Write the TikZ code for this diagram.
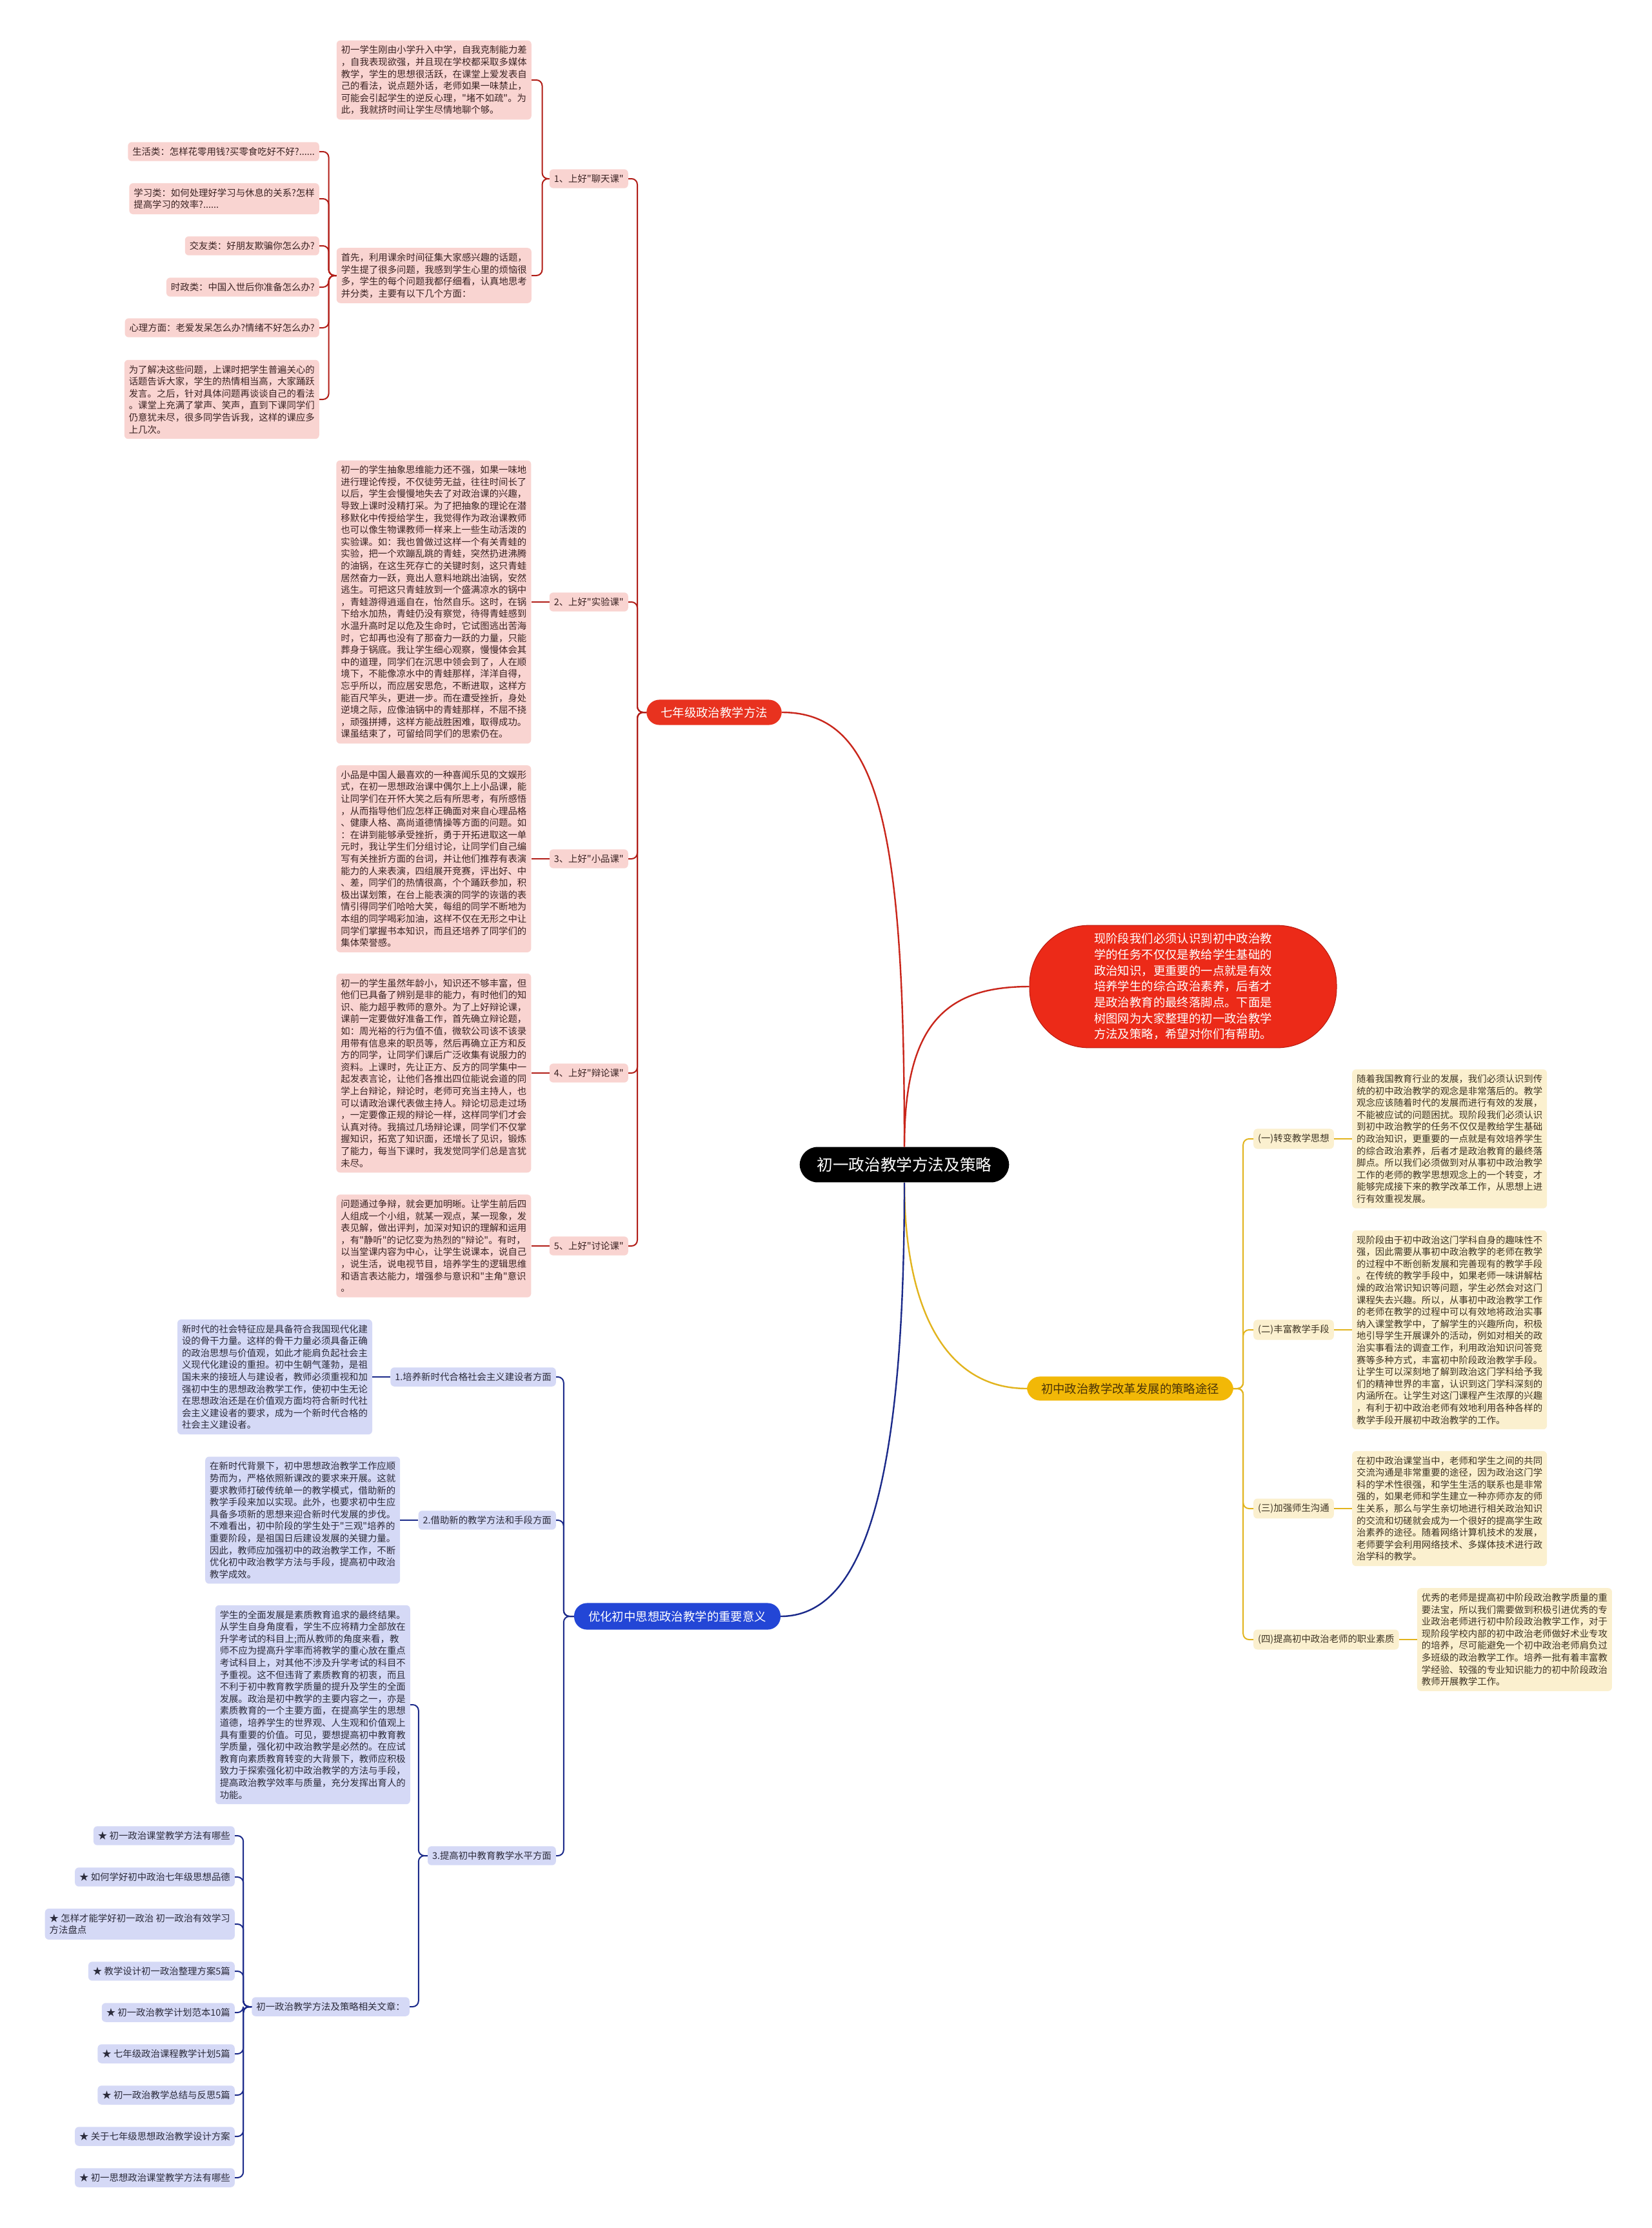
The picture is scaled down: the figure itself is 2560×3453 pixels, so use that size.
\documentclass[tikz,border=0pt]{standalone}
\usepackage{fontspec}
\setmainfont{Noto Sans CJK SC}
\newfontfamily\cjk{Noto Sans CJK SC}
\XeTeXlinebreaklocale "zh"
\usetikzlibrary{positioning}

\definecolor{pinkfill}{HTML}{F9D4D1}
\definecolor{pinktext}{HTML}{3B2323}
\definecolor{redline}{HTML}{B11D17}
\definecolor{rootred}{HTML}{C9261B}
\definecolor{qred}{HTML}{E8321F}
\definecolor{introred}{HTML}{EC2A18}
\definecolor{introedge}{HTML}{B81A0F}
\definecolor{bluefill}{HTML}{D5D9F6}
\definecolor{bluetext}{HTML}{2B2B3B}
\definecolor{blueline}{HTML}{1B2A8A}
\definecolor{bmain}{HTML}{2346D6}
\definecolor{yelfill}{HTML}{FBF0CF}
\definecolor{yeltext}{HTML}{3E3423}
\definecolor{yelline}{HTML}{E2B41E}
\definecolor{ymain}{HTML}{F2B807}
\definecolor{ymaintext}{HTML}{4B3407}

\begin{document}
\begin{tikzpicture}[x=1pt, y=-1pt, node distance=28pt,
    every node/.style={font=\cjk\fontsize{14.4}{18.6}\selectfont, align=left, inner xsep=7pt, inner ysep=8pt, rounded corners=6pt},
    pinkbox/.style={fill=pinkfill, text=pinktext},
    bluebox/.style={fill=bluefill, text=bluetext},
    yelbox/.style={fill=yelfill, text=yeltext},
    topic/.style={font=\cjk\fontsize{18.4}{24.7}\selectfont, align=center, inner xsep=22pt, inner ysep=11pt, rounded corners=20pt, text=white},
    redcon/.style={draw=redline, line width=2pt, rounded corners=9pt},
    bluecon/.style={draw=blueline, line width=2pt, rounded corners=9pt},
    yelcon/.style={draw=yelline, line width=2pt, rounded corners=9pt}]

    \fill[white] (0,0) rectangle (2560,3453);
    \useasboundingbox (0,0) rectangle (2560,3453);

    % centre and main branches
    \node[topic, fill=black, font=\cjk\fontsize{24.6}{30}\selectfont, inner xsep=27pt, inner ysep=16pt, rounded corners=28pt] (root) at (1402,1805) {初一政治教学方法及策略};
    \node[topic, fill=introred, draw=introedge, line width=1pt, align=left, inner xsep=100pt, inner ysep=12pt, rounded corners=92pt] (intro) at (1834,1529) {现阶段我们必须认识到初中政治教\\学的任务不仅仅是教给学生基础的\\政治知识，更重要的一点就是有效\\培养学生的综合政治素养，后者才\\是政治教育的最终落脚点。下面是\\树图网为大家整理的初一政治教学\\方法及策略，希望对你们有帮助。};
    \node[topic, fill=qred] (grade7) at (1107,1104) {七年级政治教学方法};
    \node[topic, fill=ymain, text=ymaintext, inner ysep=10pt] (reform) at (1752,2152) {初中政治教学改革发展的策略途径};
    \node[topic, fill=bmain, inner ysep=12pt] (meaning) at (1050,2505) {优化初中思想政治教学的重要意义};

    \draw[rootred, line width=2.4pt] (root.north) .. controls +(0,-500) and +(150,0) .. (grade7.east);
    \draw[rootred, line width=2.4pt] (root.north) .. controls +(0,-190) and +(-130,0) .. (intro.west);
    \draw[yelline, line width=2.4pt] (root.south) .. controls +(0,190) and +(-130,0) .. (reform.west);
    \draw[blueline, line width=2.4pt] (root.south) .. controls +(0,430) and +(140,0) .. (meaning.east);

    % seventh grade methods
    \node[pinkbox, anchor=east] (chat) at (974,277) {1、上好"聊天课"};
    \node[pinkbox, anchor=east] (exper) at (974,933) {2、上好"实验课"};
    \node[pinkbox, anchor=east] (skit) at (974,1331) {3、上好"小品课"};
    \node[pinkbox, anchor=east] (debate) at (974,1663) {4、上好"辩论课"};
    \node[pinkbox, anchor=east] (discuss) at (974,1931) {5、上好"讨论课"};

    \node[pinkbox, anchor=east] (chat-a) at (824,124) {初一学生刚由小学升入中学，自我克制能力差\\，自我表现欲强，并且现在学校都采取多媒体\\教学，学生的思想很活跃，在课堂上爱发表自\\己的看法，说点题外话，老师如果一味禁止，\\可能会引起学生的逆反心理，"堵不如疏"。为\\此，我就挤时间让学生尽情地聊个够。};
    \node[pinkbox, anchor=east] (chat-b) at (824,427) {首先，利用课余时间征集大家感兴趣的话题，\\学生提了很多问题，我感到学生心里的烦恼很\\多，学生的每个问题我都仔细看，认真地思考\\并分类，主要有以下几个方面：};
    \node[pinkbox, anchor=east] (life) at (495,235) {生活类：怎样花零用钱?买零食吃好不好?......};
    \node[pinkbox, anchor=east] (study) at (495,308) {学习类：如何处理好学习与休息的关系?怎样\\提高学习的效率?......};
    \node[pinkbox, anchor=east] (friend) at (495,381) {交友类：好朋友欺骗你怎么办?};
    \node[pinkbox, anchor=east] (news) at (495,445) {时政类：中国入世后你准备怎么办?};
    \node[pinkbox, anchor=east] (mind) at (495,508) {心理方面：老爱发呆怎么办?情绪不好怎么办?};
    \node[pinkbox, anchor=east] (solve) at (495,619) {为了解决这些问题，上课时把学生普遍关心的\\话题告诉大家，学生的热情相当高，大家踊跃\\发言。之后，针对具体问题再谈谈自己的看法\\。课堂上充满了掌声、笑声，直到下课同学们\\仍意犹未尽，很多同学告诉我，这样的课应多\\上几次。};

    \node[pinkbox, left=of exper] (exper-t) {初一的学生抽象思维能力还不强，如果一味地\\进行理论传授，不仅徒劳无益，往往时间长了\\以后，学生会慢慢地失去了对政治课的兴趣，\\导致上课时没精打采。为了把抽象的理论在潜\\移默化中传授给学生，我觉得作为政治课教师\\也可以像生物课教师一样来上一些生动活泼的\\实验课。如：我也曾做过这样一个有关青蛙的\\实验，把一个欢蹦乱跳的青蛙，突然扔进沸腾\\的油锅，在这生死存亡的关键时刻，这只青蛙\\居然奋力一跃，竟出人意料地跳出油锅，安然\\逃生。可把这只青蛙放到一个盛满凉水的锅中\\，青蛙游得逍遥自在，怡然自乐。这时，在锅\\下给水加热，青蛙仍没有察觉，待得青蛙感到\\水温升高时足以危及生命时，它试图逃出苦海\\时，它却再也没有了那奋力一跃的力量，只能\\葬身于锅底。我让学生细心观察，慢慢体会其\\中的道理，同学们在沉思中领会到了，人在顺\\境下，不能像凉水中的青蛙那样，洋洋自得，\\忘乎所以，而应居安思危，不断进取，这样方\\能百尺竿头，更进一步。而在遭受挫折，身处\\逆境之际，应像油锅中的青蛙那样，不屈不挠\\，顽强拼搏，这样方能战胜困难，取得成功。\\课虽结束了，可留给同学们的思索仍在。};
    \node[pinkbox, left=of skit] (skit-t) {小品是中国人最喜欢的一种喜闻乐见的文娱形\\式，在初一思想政治课中偶尔上上小品课，能\\让同学们在开怀大笑之后有所思考，有所感悟\\，从而指导他们应怎样正确面对来自心理品格\\、健康人格、高尚道德情操等方面的问题。如\\：在讲到能够承受挫折，勇于开拓进取这一单\\元时，我让学生们分组讨论，让同学们自己编\\写有关挫折方面的台词，并让他们推荐有表演\\能力的人来表演，四组展开竞赛，评出好、中\\、差，同学们的热情很高，个个踊跃参加，积\\极出谋划策，在台上能表演的同学的诙谐的表\\情引得同学们哈哈大笑，每组的同学不断地为\\本组的同学喝彩加油，这样不仅在无形之中让\\同学们掌握书本知识，而且还培养了同学们的\\集体荣誉感。};
    \node[pinkbox, left=of debate] (debate-t) {初一的学生虽然年龄小，知识还不够丰富，但\\他们已具备了辨别是非的能力，有时他们的知\\识、能力超乎教师的意外。为了上好辩论课，\\课前一定要做好准备工作，首先确立辩论题，\\如：周光裕的行为值不值，微软公司该不该录\\用带有信息来的职员等，然后再确立正方和反\\方的同学，让同学们课后广泛收集有说服力的\\资料。上课时，先让正方、反方的同学集中一\\起发表言论，让他们各推出四位能说会道的同\\学上台辩论，辩论时，老师可充当主持人，也\\可以请政治课代表做主持人。辩论切忌走过场\\，一定要像正规的辩论一样，这样同学们才会\\认真对待。我搞过几场辩论课，同学们不仅掌\\握知识，拓宽了知识面，还增长了见识，锻炼\\了能力，每当下课时，我发觉同学们总是言犹\\未尽。};
    \node[pinkbox, left=of discuss] (discuss-t) {问题通过争辩，就会更加明晰。让学生前后四\\人组成一个小组，就某一观点，某一现象，发\\表见解，做出评判，加深对知识的理解和运用\\，有"静听"的记忆变为热烈的"辩论"。有时，\\以当堂课内容为中心，让学生说课本，说自己\\，说生活，说电视节目，培养学生的逻辑思维\\和语言表达能力，增强参与意识和"主角"意识\\。};

    \foreach \n in {chat,exper,skit,debate,discuss}
        \draw[redcon] (grade7.west) -- ++(-14,0) |- (\n.east);
    \draw[redcon] (chat.west) -- ++(-11,0) |- (chat-a.east);
    \draw[redcon] (chat.west) -- ++(-11,0) |- (chat-b.east);
    \foreach \n in {life,study,friend,news,mind,solve}
        \draw[redcon] (chat-b.west) -- ++(-12,0) |- (\n.east);
    \foreach \n in {exper,skit,debate,discuss}
        \draw[redcon] (\n.west) -- (\n-t.east);

    % reform strategies
    \node[yelbox, anchor=west] (idea) at (1943,1765) {(一)转变教学思想};
    \node[yelbox, anchor=west] (tools) at (1943,2061) {(二)丰富教学手段};
    \node[yelbox, anchor=west] (talk) at (1943,2338) {(三)加强师生沟通};
    \node[yelbox, anchor=west] (staff) at (1943,2541) {(四)提高初中政治老师的职业素质};

    \node[yelbox, right=of idea] (idea-t) {随着我国教育行业的发展，我们必须认识到传\\统的初中政治教学的观念是非常落后的。教学\\观念应该随着时代的发展而进行有效的发展，\\不能被应试的问题困扰。现阶段我们必须认识\\到初中政治教学的任务不仅仅是教给学生基础\\的政治知识，更重要的一点就是有效培养学生\\的综合政治素养，后者才是政治教育的最终落\\脚点。所以我们必须做到对从事初中政治教学\\工作的老师的教学思想观念上的一个转变，才\\能够完成接下来的教学改革工作，从思想上进\\行有效重视发展。};
    \node[yelbox, right=of tools] (tools-t) {现阶段由于初中政治这门学科自身的趣味性不\\强，因此需要从事初中政治教学的老师在教学\\的过程中不断创新发展和完善现有的教学手段\\。在传统的教学手段中，如果老师一味讲解枯\\燥的政治常识知识等问题，学生必然会对这门\\课程失去兴趣。所以，从事初中政治教学工作\\的老师在教学的过程中可以有效地将政治实事\\纳入课堂教学中，了解学生的兴趣所向，积极\\地引导学生开展课外的活动，例如对相关的政\\治实事看法的调查工作，利用政治知识问答竞\\赛等多种方式，丰富初中阶段政治教学手段。\\让学生可以深刻地了解到政治这门学科给予我\\们的精神世界的丰富，认识到这门学科深刻的\\内涵所在。让学生对这门课程产生浓厚的兴趣\\，有利于初中政治老师有效地利用各种各样的\\教学手段开展初中政治教学的工作。};
    \node[yelbox, right=of talk] (talk-t) {在初中政治课堂当中，老师和学生之间的共同\\交流沟通是非常重要的途径，因为政治这门学\\科的学术性很强，和学生生活的联系也是非常\\强的，如果老师和学生建立一种亦师亦友的师\\生关系，那么与学生亲切地进行相关政治知识\\的交流和切磋就会成为一个很好的提高学生政\\治素养的途径。随着网络计算机技术的发展，\\老师要学会利用网络技术、多媒体技术进行政\\治学科的教学。};
    \node[yelbox, right=of staff] (staff-t) {优秀的老师是提高初中阶段政治教学质量的重\\要法宝，所以我们需要做到积极引进优秀的专\\业政治老师进行初中阶段政治教学工作，对于\\现阶段学校内部的初中政治老师做好术业专攻\\的培养，尽可能避免一个初中政治老师肩负过\\多班级的政治教学工作。培养一批有着丰富教\\学经验、较强的专业知识能力的初中阶段政治\\教师开展教学工作。};

    \foreach \n in {idea,tools,talk,staff} {
        \draw[yelcon] (reform.east) -- ++(15,0) |- (\n.west);
        \draw[yelcon] (\n.east) -- (\n-t.west);
    }

    % importance of optimising
    \node[bluebox, anchor=east] (build) at (862,2134) {1.培养新时代合格社会主义建设者方面};
    \node[bluebox, anchor=east] (means) at (862,2356) {2.借助新的教学方法和手段方面};
    \node[bluebox, anchor=east] (level) at (862,2876) {3.提高初中教育教学水平方面};

    \node[bluebox, left=of build] (build-t) {新时代的社会特征应是具备符合我国现代化建\\设的骨干力量。这样的骨干力量必须具备正确\\的政治思想与价值观，如此才能肩负起社会主\\义现代化建设的重担。初中生朝气蓬勃，是祖\\国未来的接班人与建设者，教师必须重视和加\\强初中生的思想政治教学工作，使初中生无论\\在思想政治还是在价值观方面均符合新时代社\\会主义建设者的要求，成为一个新时代合格的\\社会主义建设者。};
    \node[bluebox, left=of means] (means-t) {在新时代背景下，初中思想政治教学工作应顺\\势而为，严格依照新课改的要求来开展。这就\\要求教师打破传统单一的教学模式，借助新的\\教学手段来加以实现。此外，也要求初中生应\\具备多项新的思想来迎合新时代发展的步伐。\\不难看出，初中阶段的学生处于"三观"培养的\\重要阶段，是祖国日后建设发展的关键力量。\\因此，教师应加强初中的政治教学工作，不断\\优化初中政治教学方法与手段，提高初中政治\\教学成效。};
    \node[bluebox, anchor=east] (level-t) at (636,2642) {学生的全面发展是素质教育追求的最终结果。\\从学生自身角度看，学生不应将精力全部放在\\升学考试的科目上;而从教师的角度来看，教\\师不应为提高升学率而将教学的重心放在重点\\考试科目上，对其他不涉及升学考试的科目不\\予重视。这不但违背了素质教育的初衷，而且\\不利于初中教育教学质量的提升及学生的全面\\发展。政治是初中教学的主要内容之一，亦是\\素质教育的一个主要方面，在提高学生的思想\\道德，培养学生的世界观、人生观和价值观上\\具有重要的价值。可见，要想提高初中教育教\\学质量，强化初中政治教学是必然的。在应试\\教育向素质教育转变的大背景下，教师应积极\\致力于探索强化初中政治教学的方法与手段，\\提高政治教学效率与质量，充分发挥出育人的\\功能。};
    \node[bluebox, anchor=east] (links) at (635,3110) {初一政治教学方法及策略相关文章：};

    \node[bluebox, anchor=east] (art1) at (364,2845) {★ 初一政治课堂教学方法有哪些};
    \node[bluebox, anchor=east] (art2) at (364,2909) {★ 如何学好初中政治七年级思想品德};
    \node[bluebox, anchor=east] (art3) at (364,2982) {★ 怎样才能学好初一政治 初一政治有效学习\\方法盘点};
    \node[bluebox, anchor=east] (art4) at (364,3055) {★ 教学设计初一政治整理方案5篇};
    \node[bluebox, anchor=east] (art5) at (364,3119) {★ 初一政治教学计划范本10篇};
    \node[bluebox, anchor=east] (art6) at (364,3183) {★ 七年级政治课程教学计划5篇};
    \node[bluebox, anchor=east] (art7) at (364,3247) {★ 初一政治教学总结与反思5篇};
    \node[bluebox, anchor=east] (art8) at (364,3311) {★ 关于七年级思想政治教学设计方案};
    \node[bluebox, anchor=east] (art9) at (364,3375) {★ 初一思想政治课堂教学方法有哪些};

    \foreach \n in {build,means,level}
        \draw[bluecon] (meaning.west) -- ++(-16,0) |- (\n.east);
    \draw[bluecon] (build.west) -- (build-t.east);
    \draw[bluecon] (means.west) -- (means-t.east);
    \draw[bluecon] (level.west) -- ++(-14,0) |- (level-t.east);
    \draw[bluecon] (level.west) -- ++(-14,0) |- (links.east);
    \foreach \n in {1,...,9}
        \draw[bluecon] (links.west) -- ++(-13,0) |- (art\n.east);
\end{tikzpicture}
\end{document}
